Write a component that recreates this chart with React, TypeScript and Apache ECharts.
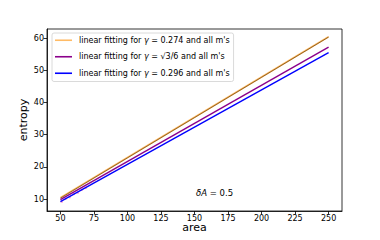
import React, { useEffect, useRef } from "react";
import * as echarts from "echarts";

const areaEnds = [50, 250];
const fit0274 = [10.4, 60.4];
const fitSqrt3 = [9.8, 57.2];
const fit0296 = [9.2, 55.5];
const dataPts0274 = [[50, 10.3], [100, 22.8], [150, 35.3], [200, 47.8], [250, 60.3]];
const pinkPts = [[51, 9.2], [54, 10.1], [57, 10.6], [60, 11.6], [63, 12.0], [66, 12.9], [69, 13.5]];
const xTicks = [50, 75, 100, 125, 150, 175, 200, 225, 250];
const yTicks = [10, 20, 30, 40, 50, 60];

const FONT = "DejaVu Sans";

export default function App() {
  const ref = useRef<HTMLDivElement>(null);
  useEffect(() => {
    const chart = echarts.init(ref.current!, undefined, { renderer: "svg" });
    const line = (vals: number[]) => areaEnds.map((a, i) => [a, vals[i]]);
    const labels: Record<string, string> = {
      g274: "linear fitting for {i|γ} = 0.274 and all m's",
      gsq: "linear fitting for {i|γ} = √3/6 and all m's",
      g296: "linear fitting for {i|γ} = 0.296 and all m's",
    };
    chart.setOption({
      animation: false,
      backgroundColor: "#fff",
      textStyle: { fontFamily: FONT },
      grid: { left: 47, top: 29, width: 295, height: 182, show: true, borderColor: "#000", borderWidth: 0.8, backgroundColor: "transparent" },
      xAxis: {
        type: "value", min: 40, max: 260,
        name: "area", nameLocation: "middle", nameGap: 11, nameMoveOverlap: false,
        nameTextStyle: { fontSize: 11, color: "#000", fontFamily: FONT, verticalAlign: "top" },
        axisLine: { show: true, onZero: false, lineStyle: { color: "#000", width: 0.8 } },
        axisTick: { show: true, length: 3.5, lineStyle: { color: "#000", width: 0.8 }, customValues: xTicks },
        axisLabel: { fontSize: 8, color: "#000", margin: 3, fontFamily: FONT, customValues: xTicks },
        splitLine: { show: false },
      },
      yAxis: {
        type: "value", min: 6.3, max: 62.8,
        name: "entropy", nameLocation: "middle", nameGap: 18, nameMoveOverlap: false,
        nameTextStyle: { fontSize: 11, color: "#000", fontFamily: FONT },
        axisLine: { show: true, onZero: false, lineStyle: { color: "#000", width: 0.8 } },
        axisTick: { show: true, length: 3.5, lineStyle: { color: "#000", width: 0.8 }, customValues: yTicks },
        axisLabel: { fontSize: 8, color: "#000", margin: 3, fontFamily: FONT, customValues: yTicks },
        splitLine: { show: false },
      },
      legend: {
        orient: "vertical", left: 52, top: 33,
        data: ["g274", "gsq", "g296"],
        icon: "rect", itemWidth: 17, itemHeight: 1.6, itemGap: 6,
        padding: [2, 4, 3, 3],
        borderColor: "#d0d0d0", borderWidth: 0.8, borderRadius: 2, backgroundColor: "rgba(255,255,255,0.85)",
        formatter: (n: string) => labels[n],
        textStyle: {
          fontSize: 8, color: "#000", fontFamily: FONT, padding: [0, 0, 0, 2], lineHeight: 10.5,
          rich: { i: { fontStyle: "italic", fontSize: 8, fontFamily: FONT } },
        },
      },
      series: [
        { name: "g274", type: "line", data: line(fit0274), showSymbol: false, lineStyle: { color: "#ffb85c", width: 1.6 }, itemStyle: { color: "#ffbb66" }, z: 3 },
        { name: "g274pts", type: "line", data: dataPts0274, showSymbol: false, lineStyle: { color: "#4a2a00", width: 0.7, opacity: 0.85 }, z: 4 },
        { name: "gsq", type: "line", data: line(fitSqrt3), showSymbol: false, lineStyle: { color: "#8b008b", width: 1.4 }, itemStyle: { color: "#8b008b" }, z: 3 },
        { name: "g296", type: "line", data: line(fit0296), showSymbol: false, lineStyle: { color: "#0000ff", width: 1.4 }, itemStyle: { color: "#0000ff" }, z: 3 },
        { name: "pink", type: "scatter", data: pinkPts, symbolSize: 2.5, itemStyle: { color: "#ff99cc", opacity: 0.8 }, z: 2 },
      ],
      graphic: [
        {
          type: "text", left: 196, top: 188,
          style: {
            text: "{i|δA} = 0.5", fontSize: 8.5, fontFamily: FONT, fill: "#000",
            rich: { i: { fontStyle: "italic", fontSize: 8.5, fontFamily: FONT } },
          },
        },
      ],
    });
    return () => chart.dispose();
  }, []);
  return <div ref={ref} style={{ width: 380, height: 240, margin: -8 }} />;
}
